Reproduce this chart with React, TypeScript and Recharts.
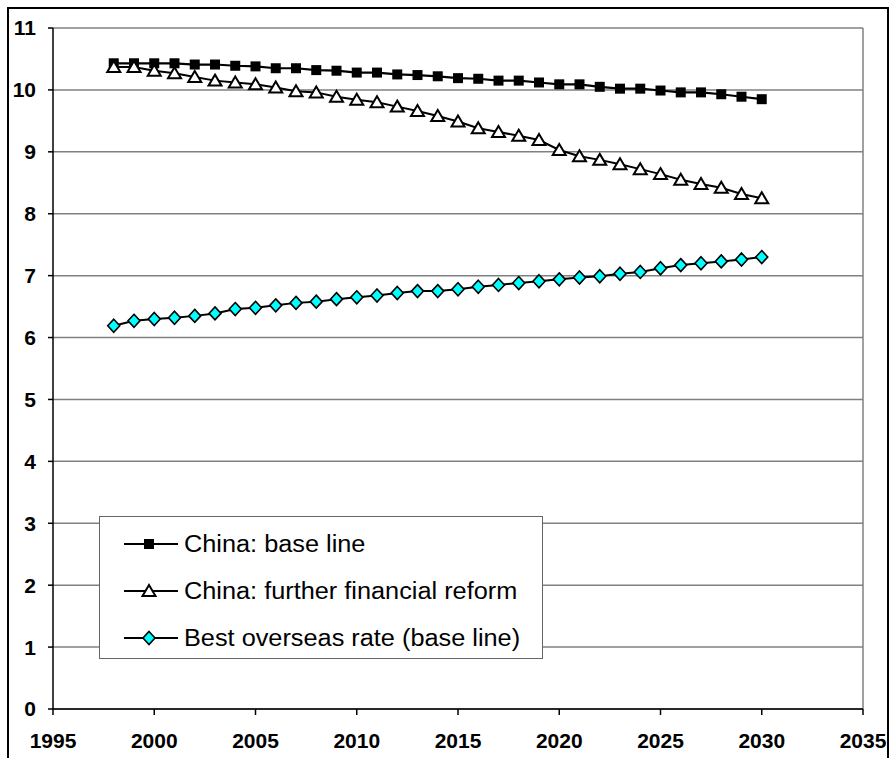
import React from "react";
import {
  CartesianGrid,
  Line,
  LineChart,
  ReferenceLine,
  XAxis,
  YAxis,
} from "recharts";

const years = [
  1998, 1999, 2000, 2001, 2002, 2003, 2004, 2005, 2006, 2007, 2008,
  2009, 2010, 2011, 2012, 2013, 2014, 2015, 2016, 2017, 2018, 2019,
  2020, 2021, 2022, 2023, 2024, 2025, 2026, 2027, 2028, 2029, 2030,
];

const baseLine = [
  10.43, 10.43, 10.43, 10.43, 10.41, 10.41, 10.39, 10.38, 10.35, 10.35, 10.32,
  10.31, 10.28, 10.28, 10.25, 10.24, 10.22, 10.19, 10.18, 10.15, 10.15, 10.12,
  10.09, 10.09, 10.05, 10.02, 10.02, 9.99, 9.96, 9.96, 9.93, 9.89, 9.85,
];

const furtherReform = [
  10.37, 10.37, 10.31, 10.27, 10.21, 10.15, 10.12, 10.09, 10.04, 9.98, 9.96,
  9.89, 9.84, 9.8, 9.73, 9.66, 9.58, 9.49, 9.38, 9.32, 9.26, 9.19,
  9.03, 8.93, 8.87, 8.8, 8.72, 8.64, 8.55, 8.48, 8.42, 8.32, 8.25,
];

const overseasRate = [
  6.19, 6.27, 6.3, 6.32, 6.35, 6.39, 6.46, 6.48, 6.52, 6.56, 6.58,
  6.62, 6.65, 6.68, 6.72, 6.75, 6.75, 6.78, 6.82, 6.85, 6.88, 6.91,
  6.94, 6.97, 6.99, 7.03, 7.06, 7.12, 7.17, 7.2, 7.23, 7.26, 7.3,
];

const xTicks = [1995, 2000, 2005, 2010, 2015, 2020, 2025, 2030, 2035];
const yTicks = [0, 1, 2, 3, 4, 5, 6, 7, 8, 9, 10, 11];

const seriesNames = [
  "China: base line",
  "China: further financial reform",
  "Best overseas rate (base line)",
];

const rows = years.map((year, i) => ({
  year,
  base: baseLine[i],
  reform: furtherReform[i],
  overseas: overseasRate[i],
}));

const FONT = "'Liberation Sans', Arial, sans-serif";

function Square({ cx, cy }: { cx: number; cy: number }) {
  return <rect x={cx - 5} y={cy - 5} width={10} height={10} fill="#000" />;
}

function Triangle({ cx, cy }: { cx: number; cy: number }) {
  return (
    <polygon
      points={`${cx},${cy - 6} ${cx + 6.5},${cy + 5} ${cx - 6.5},${cy + 5}`}
      fill="#fff"
      stroke="#000"
      strokeWidth={2}
    />
  );
}

function Diamond({ cx, cy }: { cx: number; cy: number }) {
  return (
    <polygon
      points={`${cx},${cy - 6.5} ${cx + 6},${cy} ${cx},${cy + 6.5} ${cx - 6},${cy}`}
      fill="#00ffff"
      stroke="#000"
      strokeWidth={1.6}
    />
  );
}

const markers = [Square, Triangle, Diamond];

// legend sits over the lower-left of the plot, like the original
function LegendBox() {
  return (
    <div
      style={{
        position: "absolute",
        left: 99,
        top: 516,
        width: 444,
        height: 143,
        boxSizing: "border-box",
        border: "1.5px solid #666",
        background: "#fff",
        fontFamily: FONT,
        fontSize: 23,
        color: "#000",
      }}
    >
      {seriesNames.map((name, i) => {
        const Marker = markers[i];
        return (
          <div
            key={name}
            style={{
              position: "absolute",
              left: 23,
              top: 12 + i * 47,
              height: 30,
              display: "flex",
              alignItems: "center",
              whiteSpace: "nowrap",
            }}
          >
            <svg width={56} height={30} style={{ display: "block" }}>
              <line x1={1} y1={15} x2={55} y2={15} stroke="#000" strokeWidth={2} />
              <Marker cx={26} cy={15} />
            </svg>
            <span
              style={{
                marginLeft: 5,
                display: "inline-block",
                transform: "scaleX(1.1)",
                transformOrigin: "left center",
              }}
            >
              {name}
            </span>
          </div>
        );
      })}
    </div>
  );
}

const tickStyle = { fill: "#000", fontSize: 21, fontWeight: 700, fontFamily: FONT };

export default function App() {
  return (
    <div
      style={{
        position: "absolute",
        left: 0,
        top: 0,
        width: 890,
        height: 758,
        overflow: "hidden",
        background: "#fff",
      }}
    >
      <div
        style={{
          position: "absolute",
          left: 7,
          top: 7,
          width: 882,
          height: 800,
          boxSizing: "border-box",
          border: "2px solid #000",
        }}
      />
      <LineChart
        width={890}
        height={758}
        data={rows}
        margin={{ top: 28, right: 27, left: 8, bottom: 19 }}
        style={{ position: "absolute", left: 0, top: 0 }}
      >
        <CartesianGrid vertical={false} stroke="#808080" strokeWidth={1.5} />
        <ReferenceLine x={2035} stroke="#808080" strokeWidth={1.5} />
        <XAxis
          dataKey="year"
          type="number"
          domain={[1995, 2035]}
          ticks={xTicks}
          interval={0}
          height={30}
          tickSize={6}
          tickMargin={18}
          axisLine={{ stroke: "#000", strokeWidth: 1.5 }}
          tickLine={{ stroke: "#000", strokeWidth: 1.5 }}
          tick={tickStyle}
        />
        <YAxis
          type="number"
          domain={[0, 11]}
          ticks={yTicks}
          interval={0}
          width={45}
          tickSize={5}
          tickMargin={12}
          axisLine={{ stroke: "#000", strokeWidth: 1.5 }}
          tickLine={{ stroke: "#000", strokeWidth: 1.5 }}
          tick={tickStyle}
        />
        <Line
          dataKey="base"
          stroke="#000"
          strokeWidth={2.2}
          dot={(p: any) => <Square key={p.index} cx={p.cx} cy={p.cy} />}
          activeDot={false}
          isAnimationActive={false}
        />
        <Line
          dataKey="reform"
          stroke="#000"
          strokeWidth={2}
          dot={(p: any) => <Triangle key={p.index} cx={p.cx} cy={p.cy} />}
          activeDot={false}
          isAnimationActive={false}
        />
        <Line
          dataKey="overseas"
          stroke="#000"
          strokeWidth={2}
          dot={(p: any) => <Diamond key={p.index} cx={p.cx} cy={p.cy} />}
          activeDot={false}
          isAnimationActive={false}
        />
      </LineChart>
      <LegendBox />
    </div>
  );
}
